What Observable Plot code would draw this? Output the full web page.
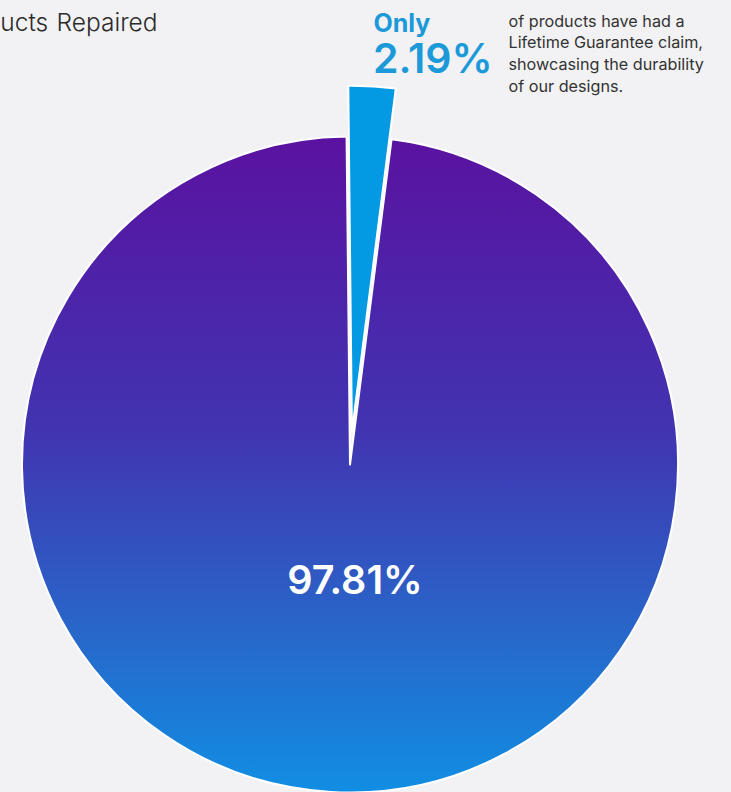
<!DOCTYPE html>
<html><head><meta charset="utf-8">
<script src="https://cdn.jsdelivr.net/npm/d3@7"></script>
<script src="https://cdn.jsdelivr.net/npm/@observablehq/plot@0.6"></script>
<style>
html,body{margin:0;padding:0;background:#f2f2f4;}
#chart{width:731px;height:792px;overflow:hidden;}
</style></head><body><div id="chart"></div>
<script>
// ---- data ----
const categories = ["Lifetime Guarantee claim", "No claim"];
const shares = [2.19, 97.81];
const sliceLabels = ["2.19%", "97.81%"];
const titleText = ["Products Repaired"];
const calloutLead = ["Only"];
const calloutNote = ["of products have had a\nLifetime Guarantee claim,\nshowcasing the durability\nof our designs."];
const sliceColors = ["#049ae3", "url(#pieGradient)"];
const gradientStops = [
  {offset: 0, color: "#5a12a0"},
  {offset: 0.45, color: "#4134b1"},
  {offset: 0.75, color: "#2866c9"},
  {offset: 1, color: "#118ee3"}
];

const rows = categories.map((c, i) => ({category: c, share: shares[i], label: sliceLabels[i], color: sliceColors[i]}));
const rot = -0.6 * Math.PI / 180;
const arcs = d3.pie().sort(null).startAngle(rot).endAngle(2 * Math.PI + rot).value(d => d.share)(rows);

function pieMark(arcs) {
  return (index, scales, values, dims, context) => {
    const {x, y} = scales;
    const cx = x(0), cy = y(0), r = x(1) - x(0);
    const g = d3.create("svg:g").attr("transform", `translate(${cx},${cy})`);
    const lg = g.append("defs").append("linearGradient")
      .attr("id", "pieGradient").attr("gradientUnits", "userSpaceOnUse")
      .attr("x1", 0).attr("x2", 0).attr("y1", y(1) - cy).attr("y2", y(-1) - cy);
    lg.selectAll("stop").data(gradientStops).join("stop")
      .attr("offset", d => d.offset).attr("stop-color", d => d.color);
    for (const a of arcs) {
      const small = a.data.share < 5;
      const mid = (a.startAngle + a.endAngle) / 2;
      const off = small ? 0.1 * r : 0;
      const R = small ? 1.055 * r : r;
      const p = g.append("path")
        .attr("d", d3.arc().innerRadius(0).outerRadius(R)(a))
        .attr("fill", a.data.color)
        .attr("stroke", "#ffffff")
        .attr("stroke-width", 2)
        .attr("stroke-linejoin", "round");
      if (off) p.attr("transform", `translate(${off * Math.sin(mid)},${-off * Math.cos(mid)})`);
    }
    return g.node();
  };
}

const chart = Plot.plot({
  width: 731,
  height: 792,
  marginLeft: 22,
  marginRight: 53,
  marginTop: 137,
  marginBottom: 0,
  x: {domain: [-1, 1], axis: null},
  y: {domain: [-1, 1], axis: null},
  style: {fontFamily: "Inter, 'Noto Sans', sans-serif", background: "#f2f2f4", overflow: "visible"},
  marks: [
    pieMark(arcs),
    Plot.text(titleText, {text: d => d, frameAnchor: "top-left", dx: 135, dy: -107, textAnchor: "end", lineAnchor: "bottom", fontSize: 24.5, fontWeight: 300, fill: "#2b2b2b", className: "ttl"}),
    Plot.text(calloutLead, {text: d => d, frameAnchor: "top-left", dx: 351, dy: -105.5, textAnchor: "start", lineAnchor: "bottom", fontSize: 25, fontWeight: 700, fill: "#1b99d9"}),
    Plot.text([sliceLabels[0]], {text: d => d, frameAnchor: "top-left", dx: 350.5, dy: -65, textAnchor: "start", lineAnchor: "bottom", fontSize: 41, fontWeight: 600, fill: "#1b99d9"}),
    Plot.text(calloutNote, {text: d => d, frameAnchor: "top-left", dx: 486, dy: -46, textAnchor: "start", lineAnchor: "bottom", lineHeight: 1.33, fontSize: 16.2, fill: "#333"}),
    Plot.text([sliceLabels[1]], {text: d => d, frameAnchor: "middle", dx: 4.5, dy: 128.5, textAnchor: "middle", lineAnchor: "bottom", fontSize: 39.5, fontWeight: 600, fill: "#ffffff"})
  ]
});
chart.querySelectorAll(".ttl text").forEach(t => t.style.wordSpacing = "1.5px");
document.getElementById("chart").appendChild(chart);
</script>
</body></html>
